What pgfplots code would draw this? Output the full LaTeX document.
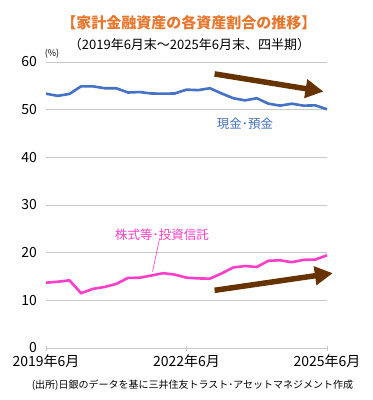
\documentclass[border=0pt]{standalone}
\usepackage{pgfplots}
\pgfplotsset{compat=1.18}
\usepackage{fontspec}
\setmainfont{Noto Sans CJK JP}
\usetikzlibrary{arrows.meta}
\definecolor{cblue}{HTML}{4472C4}
\definecolor{cpink}{HTML}{FF3DCB}
\definecolor{cbrown}{HTML}{663300}
\definecolor{corange}{HTML}{E8772E}
\definecolor{cgrid}{HTML}{C8C8C8}
\begin{document}
\begin{tikzpicture}[x=1pt,y=1pt]
\useasboundingbox (-46,-52) rectangle (327,348);
\begin{axis}[
  at={(0,0)}, anchor=south west,
  scale only axis, width=281pt, height=286pt,
  xmin=0, xmax=24, ymin=0, ymax=60,
  clip=false,
  axis x line*=bottom, axis y line*=left,
  y axis line style={draw=none},
  x axis line style={cgrid, line width=0.8pt},
  ytick={0,10,...,60},
  xtick={0,12,24},
  xticklabels={2019年6月,2022年6月,2025年6月},
  ymajorgrids, grid style={cgrid, line width=0.8pt},
  major y tick style={draw=none},
  major x tick style={cgrid, line width=0.8pt},
  tick align=center, major tick length=5pt,
  /pgf/number format/assume math mode=true,
  ticklabel style={font=\fontsize{14}{14}\selectfont},
  yticklabel style={xshift=-3pt},
  xticklabel style={yshift=-1pt},
]
\addplot[cblue, line width=2.6pt] coordinates {
(0,53.35) (1,52.9) (2,53.3) (3,54.9) (4,54.9) (5,54.5) (6,54.5) (7,53.6) (8,53.7) (9,53.4)
(10,53.35) (11,53.4) (12,54.2) (13,54.1) (14,54.5) (15,53.4) (16,52.4) (17,51.95) (18,52.4)
(19,51.25) (20,50.85) (21,51.25) (22,50.85) (23,50.9) (24,50.1)};
\addplot[cpink, line width=2.6pt] coordinates {
(0,13.7) (1,13.9) (2,14.2) (3,11.5) (4,12.4) (5,12.8) (6,13.45) (7,14.7) (8,14.75) (9,15.2)
(10,15.7) (11,15.4) (12,14.75) (13,14.6) (14,14.55) (15,15.65) (16,16.9) (17,17.2) (18,17.0)
(19,18.3) (20,18.4) (21,18.0) (22,18.5) (23,18.55) (24,19.45)};
\addplot[cbrown, line width=5.5pt, -{Triangle[length=18pt,width=18pt]}] coordinates {(14.4,57.5) (23.7,53.8)};
\addplot[cbrown, line width=5.5pt, -{Triangle[length=18pt,width=18pt]}] coordinates {(14.4,12.1) (24.5,15.7)};
\addplot[cpink, line width=0.6pt] coordinates {(9.7,23.0) (9.1,16.0)};
\node[text=cblue, font=\fontsize{12.5}{12.5}\selectfont] at (axis cs:17.0,47.1) {現金･預金};
\node[text=cpink, font=\fontsize{12.5}{12.5}\selectfont] at (axis cs:9.9,23.7) {株式等･投資信託};
\end{axis}
\node[text=corange, font=\fontsize{15}{15}\selectfont\bfseries] at (143,325) {【家計金融資産の各資産割合の推移】};
\node[font=\fontsize{13}{13}\selectfont] at (143.5,303) {（2019年6月末～2025年6月末、四半期）};
\node[font=\fontsize{9}{9}\selectfont] at (6,294.5) {(\%)};
\node[font=\fontsize{10}{10}\selectfont] at (146.5,-37.7) {(出所)日銀のデータを基に三井住友トラスト･アセットマネジメント作成};
\end{tikzpicture}
\end{document}
